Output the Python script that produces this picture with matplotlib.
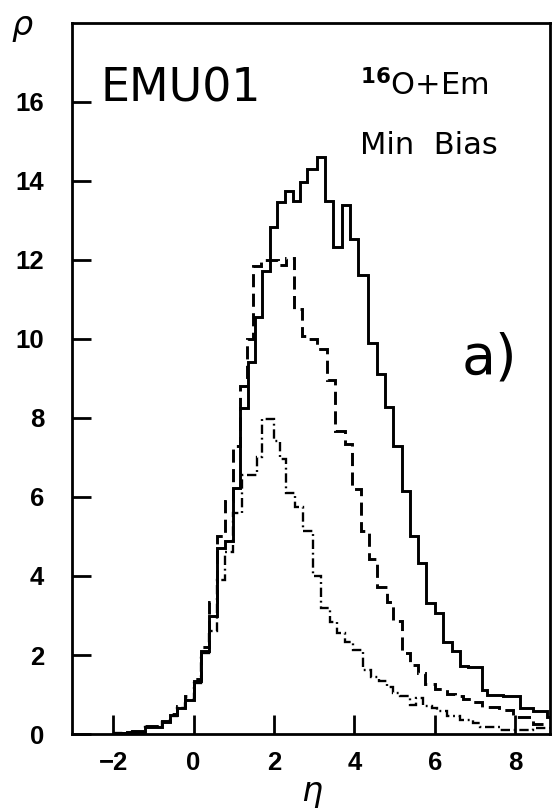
"""
EMU01 pseudorapidity density, 16O+Em minimum bias (panel a).
Three step histograms: solid, dashed, dash-dot.
"""

import matplotlib
matplotlib.use("Agg")
import matplotlib.pyplot as plt

# --- data (eta bin edges, rho per bin) ---
solid_edges = [-2.0, -1.66, -1.21, -0.79, -0.59, -0.42, -0.21, 0.0,
               0.19, 0.38, 0.59, 0.77, 0.99, 1.15, 1.36, 1.53, 1.70, 1.90,
               2.07, 2.27, 2.48, 2.64, 2.83, 3.06, 3.27, 3.47, 3.68, 3.89,
               4.09, 4.34, 4.55, 4.76, 4.96, 5.17, 5.38, 5.59, 5.79, 6.00,
               6.21, 6.42, 6.62, 6.83, 7.16, 7.29, 7.70, 8.11, 8.44, 8.78, 8.86]
solid_rho = [0.03, 0.06, 0.19, 0.31, 0.48, 0.67, 0.86,
             1.33, 2.1, 3.0, 4.72, 4.88,
             6.22, 8.25, 9.41, 10.56, 11.73,
             12.84, 13.47, 13.75, 13.49, 13.97,
             14.31, 14.6, 13.49, 12.33, 13.38,
             12.54, 11.61, 9.89, 9.11, 8.29,
             7.29, 6.14, 5.01, 4.33, 3.32,
             3.06, 2.34, 2.09, 1.71, 1.70,
             1.12, 1.0, 0.95, 0.65, 0.57,
             0.44]

dashed_edges = [-2.0, -1.66, -1.21, -0.79, -0.59, -0.42, -0.21, 0.0,
                0.19, 0.38, 0.59, 0.77, 0.99, 1.15, 1.32, 1.48, 1.68, 1.90,
                2.10, 2.30, 2.50, 2.69, 2.88, 3.06, 3.31, 3.52, 3.76, 3.95,
                4.17, 4.36, 4.56, 4.80, 4.97, 5.18, 5.38, 5.57, 5.76, 6.00,
                6.30, 6.50, 6.70, 6.90, 7.17, 7.60, 7.95, 8.44, 8.86]
dashed_rho = [0.03, 0.07, 0.21, 0.34, 0.5, 0.72, 0.95,
              1.4, 2.2, 3.35, 5.0, 5.9,
              7.3, 8.8, 10.0, 11.85, 12.0,
              12.0, 11.88, 12.05, 10.75, 10.08,
              10.0, 9.75, 8.95, 7.68, 7.35,
              6.19, 5.15, 4.42, 3.72, 3.35,
              2.85, 2.05, 1.75, 1.55, 1.26,
              1.15, 1.02, 0.95, 0.88, 0.8,
              0.68, 0.6, 0.42, 0.25]

dashdot_edges = [-2.0, -1.66, -1.21, -0.79, -0.59, -0.42, -0.21, 0.0,
                 0.19, 0.38, 0.59, 0.77, 0.99, 1.20, 1.57, 1.70, 2.00, 2.15,
                 2.31, 2.52, 2.73, 2.98, 3.18, 3.40, 3.56, 3.76, 3.97, 4.20,
                 4.40, 4.60, 4.80, 4.97, 5.13, 5.38, 5.54, 5.71, 5.92, 6.04,
                 6.29, 6.62, 6.95, 7.12, 7.62, 8.44, 8.86]
dashdot_rho = [0.02, 0.06, 0.18, 0.30, 0.46, 0.65, 0.85,
               1.3, 2.05, 2.6, 3.9, 4.6,
               5.6, 6.55, 7.0, 7.97, 7.42,
               6.95, 6.11, 5.75, 5.13, 4.0,
               3.2, 2.83, 2.55, 2.33, 2.12,
               1.62, 1.45, 1.33, 1.2, 1.05,
               0.97, 0.74, 0.9, 0.72, 0.65,
               0.57, 0.45, 0.35, 0.27, 0.18,
               0.1, 0.14]

xticks = [-2, 0, 2, 4, 6, 8]
yticks = [0, 2, 4, 6, 8, 10, 12, 14, 16]

LW = 2.1

fig = plt.figure(figsize=(5.54, 8.09), dpi=100)
ax = fig.add_axes([0.130, 0.0927, 0.8628, 0.8789])

ax.stairs(solid_rho, solid_edges, color="black", linewidth=LW, baseline=None)
ax.stairs(dashed_rho, dashed_edges, color="black", linewidth=LW,
          linestyle=(0, (4.5, 2.2)), baseline=None)
ax.stairs(dashdot_rho, dashdot_edges, color="black", linewidth=LW * 0.8,
          linestyle=(0, (4, 1.6, 0.8, 1.6)), baseline=None)

ax.set_xlim(-3.02, 8.86)
ax.set_ylim(0, 18)
ax.set_xticks(xticks)
ax.set_yticks(yticks)
ax.tick_params(direction="in", length=14, width=2.0, top=False, right=False)
ax.tick_params(axis="y", pad=20)
ax.tick_params(axis="x", pad=12)
for lab in ax.get_xticklabels() + ax.get_yticklabels():
    lab.set_fontfamily("Liberation Sans")
    lab.set_fontweight("bold")
    lab.set_fontsize(18.5)
for sp in ax.spines.values():
    sp.set_linewidth(2.0)

# annotations
ax.text(0.0586, 0.890, "EMU01", transform=ax.transAxes, fontsize=33,
        ha="left", va="baseline")
ax.text(0.6025, 0.8987, r"$^{\mathbf{16}}$O+Em", transform=ax.transAxes,
        fontsize=22, ha="left", va="baseline")
ax.text(0.6025, 0.8158, "Min  Bias", transform=ax.transAxes, fontsize=22,
        ha="left", va="baseline")
ax.text(0.816, 0.5077, "a)", transform=ax.transAxes, fontsize=40,
        ha="left", va="baseline")

fig.text(22 / 554, 1 - 26 / 809, "ρ", fontsize=24, style="italic",
         ha="center", va="center")
fig.text(312 / 554, 1 - 791 / 809, "η", fontsize=24, style="italic",
         ha="center", va="center")

fig.savefig("out.png", dpi=100)
